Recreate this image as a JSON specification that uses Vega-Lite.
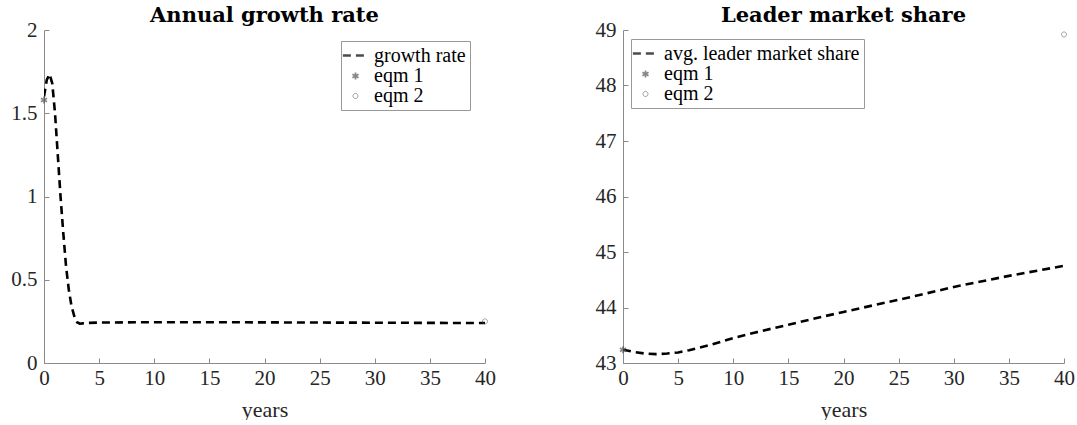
{
  "$schema": "https://vega.github.io/schema/vega-lite/v6.json",
  "padding": {"left": 10, "top": 5, "right": 5, "bottom": 0},
  "background": "white",
  "bounds": "flush",
  "spacing": 138,
  "datasets": {
    "growth": [
      {"t": 0, "v": 1.6, "series": "growth rate"},
      {"t": 0.25, "v": 1.7, "series": "growth rate"},
      {"t": 0.5, "v": 1.735, "series": "growth rate"},
      {"t": 0.75, "v": 1.68, "series": "growth rate"},
      {"t": 1.0, "v": 1.5, "series": "growth rate"},
      {"t": 1.25, "v": 1.25, "series": "growth rate"},
      {"t": 1.5, "v": 1.0, "series": "growth rate"},
      {"t": 1.75, "v": 0.78, "series": "growth rate"},
      {"t": 2.0, "v": 0.58, "series": "growth rate"},
      {"t": 2.25, "v": 0.44, "series": "growth rate"},
      {"t": 2.5, "v": 0.34, "series": "growth rate"},
      {"t": 2.75, "v": 0.28, "series": "growth rate"},
      {"t": 3.0, "v": 0.245, "series": "growth rate"},
      {"t": 3.25, "v": 0.236, "series": "growth rate"},
      {"t": 3.5, "v": 0.238, "series": "growth rate"},
      {"t": 4, "v": 0.241, "series": "growth rate"},
      {"t": 5, "v": 0.243, "series": "growth rate"},
      {"t": 10, "v": 0.245, "series": "growth rate"},
      {"t": 15, "v": 0.245, "series": "growth rate"},
      {"t": 20, "v": 0.244, "series": "growth rate"},
      {"t": 25, "v": 0.243, "series": "growth rate"},
      {"t": 30, "v": 0.242, "series": "growth rate"},
      {"t": 35, "v": 0.241, "series": "growth rate"},
      {"t": 40, "v": 0.24, "series": "growth rate"}
    ],
    "growthEqm": [
      {"t": 0, "v": 1.58, "series": "eqm 1"},
      {"t": 40, "v": 0.25, "series": "eqm 2"}
    ],
    "share": [
      {"t": 0, "v": 43.24, "series": "avg. leader market share"},
      {"t": 1, "v": 43.2, "series": "avg. leader market share"},
      {"t": 2, "v": 43.17, "series": "avg. leader market share"},
      {"t": 3, "v": 43.16, "series": "avg. leader market share"},
      {"t": 4, "v": 43.17, "series": "avg. leader market share"},
      {"t": 5, "v": 43.19, "series": "avg. leader market share"},
      {"t": 6, "v": 43.23, "series": "avg. leader market share"},
      {"t": 8, "v": 43.33, "series": "avg. leader market share"},
      {"t": 10, "v": 43.45, "series": "avg. leader market share"},
      {"t": 12, "v": 43.55, "series": "avg. leader market share"},
      {"t": 15, "v": 43.69, "series": "avg. leader market share"},
      {"t": 18, "v": 43.83, "series": "avg. leader market share"},
      {"t": 20, "v": 43.92, "series": "avg. leader market share"},
      {"t": 25, "v": 44.14, "series": "avg. leader market share"},
      {"t": 27, "v": 44.23, "series": "avg. leader market share"},
      {"t": 30, "v": 44.37, "series": "avg. leader market share"},
      {"t": 35, "v": 44.57, "series": "avg. leader market share"},
      {"t": 40, "v": 44.75, "series": "avg. leader market share"}
    ],
    "shareEqm": [
      {"t": 0, "v": 43.24, "series": "eqm 1"},
      {"t": 40, "v": 48.92, "series": "eqm 2"}
    ]
  },
  "resolve": {
    "scale": {"color": "independent", "shape": "independent", "strokeDash": "independent", "strokeWidth": "independent"},
    "legend": {"color": "independent", "shape": "independent", "strokeDash": "independent", "strokeWidth": "independent"}
  },
  "hconcat": [
    {
      "width": 441,
      "height": 333,
      "title": {"text": "Annual growth rate"},
      "encoding": {
        "x": {"field": "t", "type": "quantitative", "title": "years", "scale": {"domain": [0, 40], "nice": false}, "axis": {"values": [0, 5, 10, 15, 20, 25, 30, 35, 40]}},
        "y": {"field": "v", "type": "quantitative", "title": null, "scale": {"domain": [0, 2], "nice": false}, "axis": {"values": [0, 0.5, 1, 1.5, 2], "format": "~g"}},
        "color": {"field": "series", "type": "nominal", "scale": {"domain": ["growth rate", "eqm 1", "eqm 2"], "range": ["#000000", "#555555", "#555555"]}, "legend": {"orient": "none", "legendX": 297, "legendY": 11, "title": null}},
        "strokeDash": {"field": "series", "type": "nominal", "scale": {"domain": ["growth rate", "eqm 1", "eqm 2"], "range": [[8, 5], [1, 0], [1, 0]]}, "legend": {"orient": "none", "legendX": 297, "legendY": 11, "title": null}},
        "strokeWidth": {"field": "series", "type": "nominal", "scale": {"domain": ["growth rate", "eqm 1", "eqm 2"], "range": [2.6, 0.8, 0.8]}, "legend": {"orient": "none", "legendX": 297, "legendY": 11, "title": null}}
      },
      "layer": [
        {"data": {"name": "growth"}, "mark": {"type": "line", "clip": true}},
        {
          "data": {"name": "growthEqm"},
          "mark": {"type": "point", "filled": false, "size": 324},
          "encoding": {
            "shape": {"field": "series", "type": "nominal", "scale": {"domain": ["growth rate", "eqm 1", "eqm 2"], "range": ["M-1.4,0L1.4,0", "M0,-0.39L0,0.39M-0.34,-0.195L0.34,0.195M-0.34,0.195L0.34,-0.195", "M0.28,0A0.28,0.28 0 1,1 -0.28,0A0.28,0.28 0 1,1 0.28,0Z"]}, "legend": {"orient": "none", "legendX": 297, "legendY": 11, "title": null}}
          }
        }
      ]
    },
    {
      "width": 441,
      "height": 333,
      "title": {"text": "Leader market share"},
      "encoding": {
        "x": {"field": "t", "type": "quantitative", "title": "years", "scale": {"domain": [0, 40], "nice": false}, "axis": {"values": [0, 5, 10, 15, 20, 25, 30, 35, 40]}},
        "y": {"field": "v", "type": "quantitative", "title": null, "scale": {"domain": [43, 49], "nice": false, "zero": false}, "axis": {"values": [43, 44, 45, 46, 47, 48, 49], "format": "~g"}},
        "color": {"field": "series", "type": "nominal", "scale": {"domain": ["avg. leader market share", "eqm 1", "eqm 2"], "range": ["#000000", "#555555", "#555555"]}, "legend": {"orient": "none", "legendX": 8, "legendY": 9, "title": null}},
        "strokeDash": {"field": "series", "type": "nominal", "scale": {"domain": ["avg. leader market share", "eqm 1", "eqm 2"], "range": [[8, 5], [1, 0], [1, 0]]}, "legend": {"orient": "none", "legendX": 8, "legendY": 9, "title": null}},
        "strokeWidth": {"field": "series", "type": "nominal", "scale": {"domain": ["avg. leader market share", "eqm 1", "eqm 2"], "range": [2.6, 0.8, 0.8]}, "legend": {"orient": "none", "legendX": 8, "legendY": 9, "title": null}}
      },
      "layer": [
        {"data": {"name": "share"}, "mark": {"type": "line", "clip": true}},
        {
          "data": {"name": "shareEqm"},
          "mark": {"type": "point", "filled": false, "size": 324},
          "encoding": {
            "shape": {"field": "series", "type": "nominal", "scale": {"domain": ["avg. leader market share", "eqm 1", "eqm 2"], "range": ["M-1.4,0L1.4,0", "M0,-0.39L0,0.39M-0.34,-0.195L0.34,0.195M-0.34,0.195L0.34,-0.195", "M0.28,0A0.28,0.28 0 1,1 -0.28,0A0.28,0.28 0 1,1 0.28,0Z"]}, "legend": {"orient": "none", "legendX": 8, "legendY": 9, "title": null}}
          }
        }
      ]
    }
  ],
  "config": {
    "font": "Liberation Serif",
    "view": {"stroke": null},
    "title": {"font": "DejaVu Serif", "fontSize": 21, "fontWeight": "bold", "color": "#000000", "anchor": "middle", "offset": -7},
    "axis": {
      "grid": false,
      "domainColor": "#8a8a8a",
      "tickColor": "#8a8a8a",
      "tickSize": -5,
      "labelFont": "Liberation Serif",
      "labelFontSize": 21,
      "labelColor": "#262626",
      "labelFlush": false,
      "labelOverlap": false,
      "titleFont": "Liberation Serif",
      "titleFontSize": 22,
      "titleFontWeight": "normal",
      "titleColor": "#262626"
    },
    "axisY": {"labelPadding": 12},
    "axisX": {"labelPadding": 9, "titlePadding": 11},
    "legend": {
      "strokeColor": "#999999",
      "fillColor": "#ffffff",
      "padding": 4,
      "labelFont": "Liberation Serif",
      "labelFontSize": 20,
      "labelColor": "#000000",
      "labelLimit": 0,
      "symbolSize": 324,
      "rowPadding": 0,
      "labelOffset": 8,
      "symbolFillColor": "transparent"
    }
  }
}
